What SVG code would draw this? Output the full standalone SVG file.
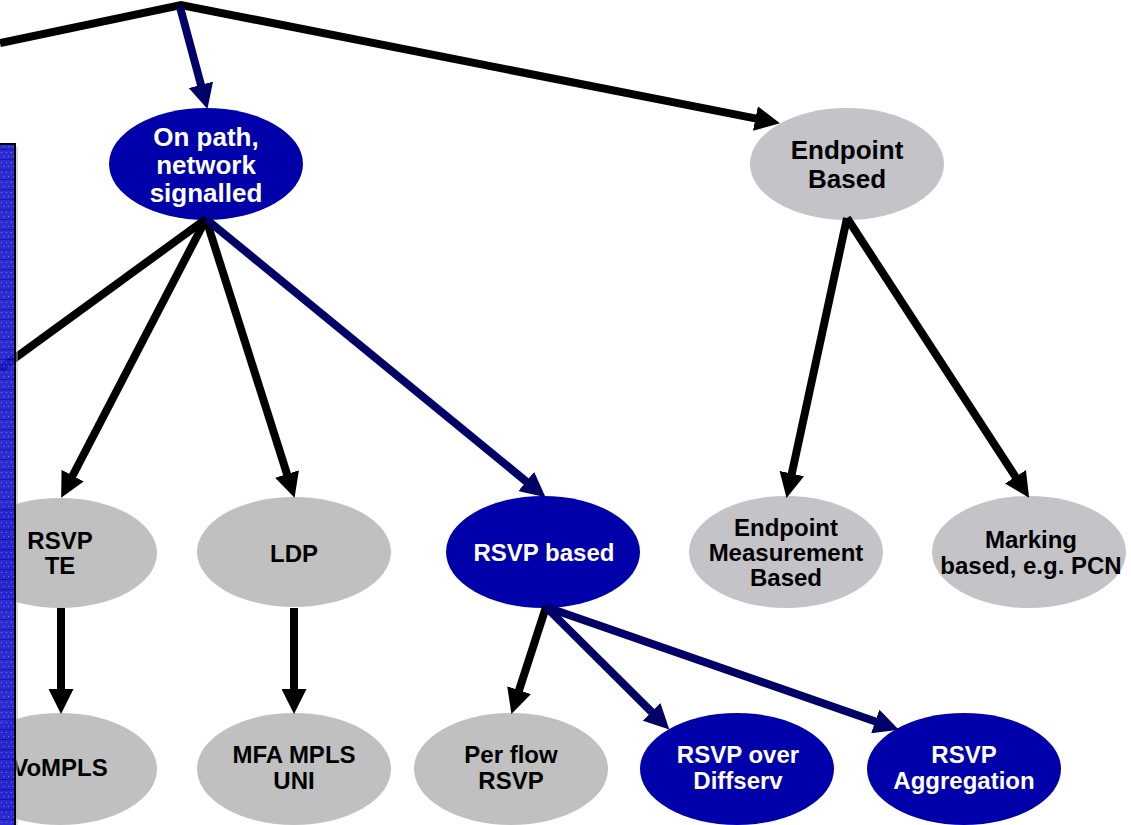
<svg xmlns="http://www.w3.org/2000/svg" width="1131" height="825" viewBox="0 0 1131 825">
  <defs>
    <style>
      .lbl { font-family: "Liberation Sans", Arial, sans-serif; font-weight: bold; text-anchor: middle; }
      .big { font-size: 26px; }
      .sm { font-size: 24px; }
      .on-blue { fill: #ffffff; }
      .on-grey { fill: #000000; }
      .blue { fill: #0000aa; }
      .grey { fill: #c0c0c0; }
      .grey2 { fill: #c4c3c8; }
      .edge { fill: none; stroke-width: 8; stroke-linecap: butt; }
      .k { stroke: #000000; }
      .n { stroke: #000066; }
    </style>
    <marker id="headK" markerUnits="userSpaceOnUse" markerWidth="25" markerHeight="25" viewBox="0 0 25 25" refX="1" refY="12.5" orient="auto">
      <path d="M0,0 L25,12.5 L0,25 z" fill="#000000"/>
    </marker>
    <marker id="headN" markerUnits="userSpaceOnUse" markerWidth="25" markerHeight="25" viewBox="0 0 25 25" refX="1" refY="12.5" orient="auto">
      <path d="M0,0 L25,12.5 L0,25 z" fill="#000066"/>
    </marker>
    <pattern id="dots" patternUnits="userSpaceOnUse" width="5" height="10">
      <rect width="5" height="10" fill="#1c1cd2"/>
      <rect y="9" width="5" height="1" fill="#0a0a96"/>
      <rect x="1" y="2" width="1" height="1" fill="#6c6cf0"/>
      <rect x="3" y="6" width="1" height="1" fill="#6c6cf0"/>
    </pattern>
  </defs>

  <rect width="1131" height="825" fill="#ffffff"/>

  <!-- tree nodes -->
  <g id="on-path">
    <ellipse class="blue" cx="206" cy="164" rx="97" ry="56"/>
    <text class="lbl big on-blue" x="206" y="146">On path,</text>
    <text class="lbl big on-blue" x="206" y="174">network</text>
    <text class="lbl big on-blue" x="206" y="202">signalled</text>
  </g>
  <g id="endpoint-based">
    <ellipse class="grey2" cx="847" cy="164" rx="97" ry="56"/>
    <text class="lbl big on-grey" x="847" y="159">Endpoint</text>
    <text class="lbl big on-grey" x="847" y="188">Based</text>
  </g>
  <g id="rsvp-te">
    <ellipse class="grey" cx="60" cy="553" rx="97" ry="55"/>
    <text class="lbl sm on-grey" x="60" y="549">RSVP</text>
    <text class="lbl sm on-grey" x="60" y="574">TE</text>
  </g>
  <g id="ldp">
    <ellipse class="grey" cx="294" cy="552" rx="97" ry="55"/>
    <text class="lbl sm on-grey" x="294" y="562">LDP</text>
  </g>
  <g id="rsvp-based">
    <ellipse class="blue" cx="543" cy="552" rx="97" ry="56"/>
    <text class="lbl sm on-blue" x="544" y="561">RSVP based</text>
  </g>
  <g id="endpoint-measurement">
    <ellipse class="grey2" cx="786" cy="552" rx="97" ry="56"/>
    <text class="lbl sm on-grey" x="786" y="536">Endpoint</text>
    <text class="lbl sm on-grey" x="786" y="561">Measurement</text>
    <text class="lbl sm on-grey" x="786" y="586">Based</text>
  </g>
  <g id="marking-based">
    <ellipse class="grey2" cx="1029" cy="552" rx="97" ry="56"/>
    <text class="lbl sm on-grey" x="1031" y="548">Marking</text>
    <text class="lbl sm on-grey" x="1031" y="574">based, e.g. PCN</text>
  </g>
  <g id="vompls">
    <ellipse class="grey" cx="60" cy="769" rx="97" ry="56"/>
    <text class="lbl sm on-grey" x="60" y="776">VoMPLS</text>
  </g>
  <g id="mfa-mpls-uni">
    <ellipse class="grey" cx="294" cy="769" rx="97" ry="56"/>
    <text class="lbl sm on-grey" x="294" y="763">MFA MPLS</text>
    <text class="lbl sm on-grey" x="294" y="789">UNI</text>
  </g>
  <g id="per-flow-rsvp">
    <ellipse class="grey" cx="511" cy="769" rx="97" ry="56"/>
    <text class="lbl sm on-grey" x="511" y="763">Per flow</text>
    <text class="lbl sm on-grey" x="511" y="789">RSVP</text>
  </g>
  <g id="rsvp-over-diffserv">
    <ellipse class="blue" cx="737" cy="769" rx="97" ry="56"/>
    <text class="lbl sm on-blue" x="738" y="763">RSVP over</text>
    <text class="lbl sm on-blue" x="738" y="789">Diffserv</text>
  </g>
  <g id="rsvp-aggregation">
    <ellipse class="blue" cx="964" cy="769" rx="97" ry="56"/>
    <text class="lbl sm on-blue" x="964" y="763">RSVP</text>
    <text class="lbl sm on-blue" x="964" y="789">Aggregation</text>
  </g>

  <!-- connectors -->
  <g id="connectors">
    <polyline class="edge k" points="0,43 181,5 756.4,118.7" stroke-linejoin="miter" marker-end="url(#headK)"/>
    <line class="edge n" x1="180" y1="7" x2="201.2" y2="85.8" marker-end="url(#headN)"/>
    <line class="edge k" x1="206" y1="219" x2="0" y2="369"/>
    <line class="edge k" x1="206" y1="219" x2="72.2" y2="476.5" marker-end="url(#headK)"/>
    <line class="edge k" x1="206" y1="219" x2="287.3" y2="475" marker-end="url(#headK)"/>
    <line class="edge n" x1="206" y1="219" x2="527" y2="482.1" marker-end="url(#headN)"/>
    <line class="edge k" x1="61" y1="608" x2="61" y2="690" marker-end="url(#headK)"/>
    <line class="edge k" x1="294" y1="608" x2="294" y2="690" marker-end="url(#headK)"/>
    <line class="edge k" x1="546" y1="607" x2="518.8" y2="691.1" marker-end="url(#headK)"/>
    <line class="edge n" x1="546" y1="607" x2="652.3" y2="712.6" marker-end="url(#headN)"/>
    <line class="edge n" x1="546" y1="607" x2="876.2" y2="721.8" marker-end="url(#headN)"/>
    <line class="edge k" x1="847" y1="218" x2="791.6" y2="474.5" marker-end="url(#headK)"/>
    <line class="edge k" x1="847" y1="218" x2="1016" y2="477.6" marker-end="url(#headK)"/>
  </g>

  <!-- patterned side panel along the left edge -->
  <g id="side-panel">
    <rect x="0" y="144" width="15" height="681" fill="url(#dots)" opacity="0.93"/>
    <line x1="0" y1="144" x2="16" y2="144" stroke="#000000" stroke-width="2"/>
    <line x1="15" y1="143" x2="15" y2="825" stroke="#000000" stroke-width="2"/>
    <line x1="17" y1="147" x2="17" y2="825" stroke="#b4b4b4" stroke-width="1"/>
  </g>
</svg>
